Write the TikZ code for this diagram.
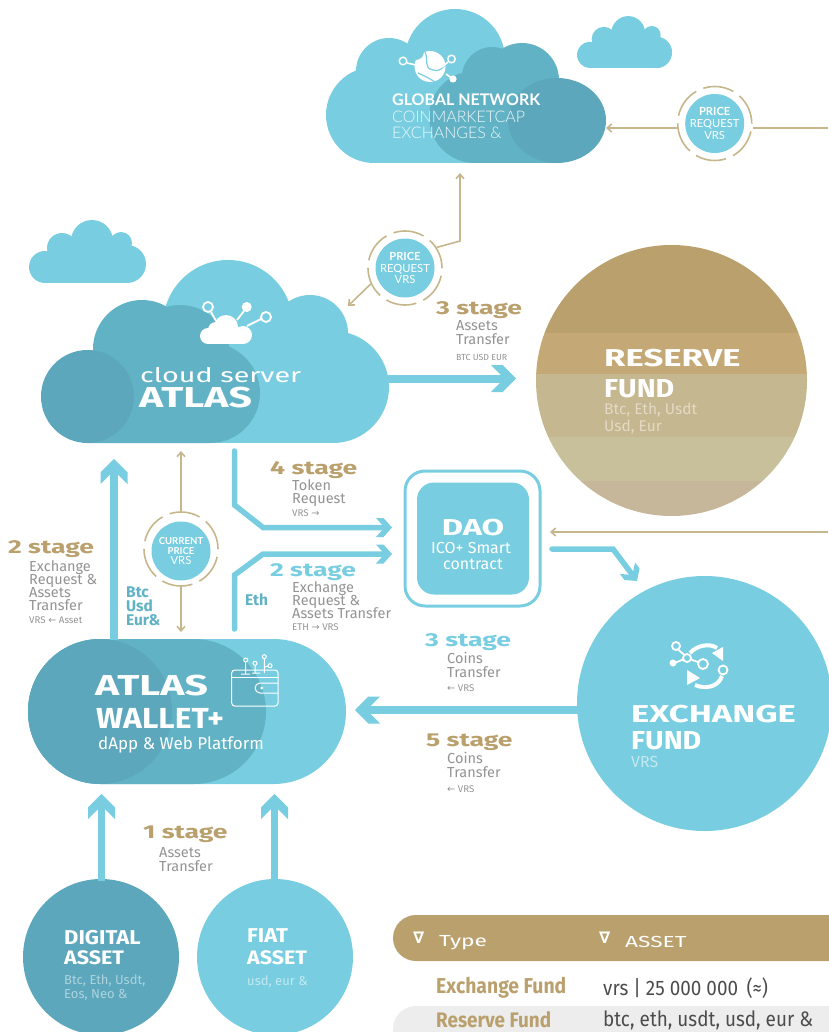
\documentclass[tikz,border=0pt]{standalone}
\usepackage{fontspec}
\usetikzlibrary{arrows.meta,calc}
\setmainfont{Fira Sans}
\newfontfamily\widef[FakeStretch=1.42,BoldFont={Fira Sans Bold}]{Fira Sans}
\newfontfamily\midf[FakeStretch=1.1,BoldFont={Fira Sans Bold}]{Fira Sans}
\newfontfamily\latof{Lato}
\newfontfamily\latol{Lato Light}
\newfontfamily\tablef[FakeStretch=.9,BoldFont={Fira Sans Bold}]{Fira Sans}
\newfontfamily\dejav{DejaVu Sans}
\newcommand{\fs}[1]{\fontsize{#1}{#1}\selectfont}
\definecolor{lblue}{HTML}{78CEE0}
\definecolor{mblue}{HTML}{62B2C6}
\definecolor{dblue}{HTML}{5CA7BC}
\definecolor{tanc}{HTML}{B9A06D}
\definecolor{thinl}{HTML}{C5B68B}
\definecolor{grayt}{HTML}{939393}
\pgfdeclarearrow{
  name=Chev,
  parameters={\the\pgfarrowlength,\the\pgfarrowwidth},
  setup code={
    \pgfarrowssettipend{0pt}
    \pgfarrowssetbackend{-\pgfarrowlength}
    \pgfarrowssetlineend{-.55\pgfarrowlength}
    \pgfarrowssetvisualbackend{-.55\pgfarrowlength}
    \pgfarrowssavethe\pgfarrowlength
    \pgfarrowssavethe\pgfarrowwidth
  },
  drawing code={
    \pgfpathmoveto{\pgfqpoint{0pt}{0pt}}
    \pgfpathlineto{\pgfpoint{-.53\pgfarrowlength}{.5\pgfarrowwidth}}
    \pgfpathlineto{\pgfpoint{-\pgfarrowlength}{.5\pgfarrowwidth}}
    \pgfpathlineto{\pgfpoint{-.62\pgfarrowlength}{.14\pgfarrowwidth}}
    \pgfpathlineto{\pgfpoint{-.62\pgfarrowlength}{-.14\pgfarrowwidth}}
    \pgfpathlineto{\pgfpoint{-\pgfarrowlength}{-.5\pgfarrowwidth}}
    \pgfpathlineto{\pgfpoint{-.53\pgfarrowlength}{-.5\pgfarrowwidth}}
    \pgfpathclose
    \pgfusepathqfill
  },
  defaults={length=25pt,width=27pt}
}
\tikzset{
  bigflow/.style={draw=lblue,line width=8pt,-{Chev}},
  slimflow/.style={draw=lblue,line width=5.5pt,line cap=round,-{Chev[length=16pt,width=19pt]}},
  thinflow/.style={draw=thinl,line width=1.6pt,-{Straight Barb[length=4.5pt,width=8pt]}},
  ring/.style={circle,draw=thinl,line width=1.6pt,minimum size=74pt,inner sep=0pt,dash pattern=on 31pt off 7.7pt},
  badge/.style={circle,fill=lblue,minimum size=59pt,inner sep=0pt,text=white,align=center,font=\fs{11.2}\latof},
  stagetan/.style={anchor=west,inner sep=0pt,yshift=-2pt,text=tanc,font=\widef\bfseries\fs{18.7}},
  stageblue/.style={stagetan,text=lblue},
  desc/.style={anchor=west,inner sep=0pt,yshift=-1.5pt,text height=9.5pt,text depth=3pt,text=grayt,font=\fs{14.5}},
  tinyt/.style={anchor=west,inner sep=0pt,yshift=-1pt,text height=7.5pt,text depth=2pt,text=grayt,font=\fs{9.7}},
  whitetxt/.style={anchor=west,inner sep=0pt,text=white},
  curr/.style={anchor=west,inner sep=0pt,text height=11pt,text depth=0pt,text=mblue,font=\bfseries\fs{15.5}},
  iconl/.style={draw=white,line width=1.3pt},
}
\begin{document}
\begin{tikzpicture}[x=1pt,y=-1pt]
\useasboundingbox (0,0) rectangle (828,1032);

% ---------- small clouds
\foreach \sx/\sy/\sc/\sv in {0/0/1/1, 553.5/-165.4/.812/.825}{
\begin{scope}[shift={(\sx,\sy)},xscale=\sc,yscale=\sv]
\fill[lblue] (45,267) circle[radius=16] (62,248) circle[radius=15] (92,241) circle[radius=21]
  (121,243) circle[radius=11] (127,264) circle[radius=19];
\fill[lblue] (45,251) rectangle (127,283);
\fill[lblue] (62,245) rectangle (121,260);
\end{scope}}

% ---------- global network cloud
\fill[lblue] (374,115) circle[radius=48] (389,71) circle[radius=33] (455,59) circle[radius=50];
\fill[lblue] (374,90) rectangle (500,163);
\fill[mblue] (492,77) circle[radius=30] (522,80) circle[radius=37] (475,117) circle[radius=46];
\fill[mblue] (475,90) rectangle (555,163);
\fill[dblue] (557,120.5) ellipse[x radius=49,y radius=42.5];
\coordinate (gright) at (606,128);
\coordinate (gbottom) at (460,173);

% ---------- atlas cloud
\fill[lblue] (228,325) circle[radius=65] (310,333) circle[radius=38] (333,387) circle[radius=56];
\fill[lblue] (180,340) rectangle (333,443);
\fill[mblue] (142,349) circle[radius=49] (180,355) circle[radius=50] (210,393) circle[radius=50];
\fill[mblue] (93,349) rectangle (160,443) (87,393) rectangle (210,443);
\fill[dblue] (87.5,396.5) circle[radius=46.5];

% globe icon
\fill[white] (430,66.5) circle[radius=15.5];
\fill[lblue] (414,60) .. controls (422,60) and (424,56) .. (424,50) -- (420,50) .. controls (412,54) and (412,58) .. (414,60) -- cycle;
\draw[lblue,line width=1.2pt] (425,52) .. controls (429,60) and (423,68) .. (433,70) .. controls (440,72) and (443,68) .. (447,62);
\draw[lblue,line width=1.2pt] (418,73) .. controls (424,76) and (430,78) .. (436,83);
\draw[iconl,line width=1.4pt] (403,61) circle[radius=3.8] (451.5,59) circle[radius=3.8];
\draw[iconl,line width=1.6pt] (407,63) -- (416,65) (448,62) -- (442,67) (446,74) -- (453,79);
\fill[white] (453,79) circle[radius=3.6];

% cloud icon
\fill[white] (208,336) circle[radius=8] (226,327) circle[radius=12] (243,335) circle[radius=9] (216,330) circle[radius=8];
\fill[white] (208,332) rectangle (243,344);
\draw[iconl,line width=1.8pt] (208,307) circle[radius=5] (266,317) circle[radius=5];
\fill[white] (246.7,307) circle[radius=5];
\draw[iconl,line width=1.8pt] (211,312) -- (216,321) (244,311) -- (237,320) (261,319) -- (247,326);

% ---------- reserve fund
\node[circle,minimum size=271pt,inner sep=0pt] (reserve) at (671.5,380.5) {};
\begin{scope}
\clip (671.5,380.5) circle[radius=135.5];
\fill[fill=tanc] (530,240) rectangle (810,333);
\fill[fill={rgb,255:red,196;green,169;blue,118}] (530,333) rectangle (810,374);
\fill[fill={rgb,255:red,197;green,183;blue,143}] (530,374) rectangle (810,437);
\fill[fill={rgb,255:red,200;green,192;blue,155}] (530,437) rectangle (810,481);
\fill[fill={rgb,255:red,198;green,183;blue,154}] (530,481) rectangle (810,520);
\end{scope}

% ---------- exchange, dao, wallet, assets
\node[circle,fill=lblue,minimum size=255pt,inner sep=0pt] (exchange) at (704.5,703.5) {};
\node[draw=lblue,line width=3pt,rounded corners=20pt,minimum size=135pt,inner sep=0pt] (daoouter) at (472.5,538.5) {};
\node[fill=lblue,rounded corners=17pt,minimum size=112pt,inner sep=0pt,text=white,align=center] (dao) at (473,538.5) {};
\fill[lblue,rounded corners=72.5pt] (28,639) rectangle (346,784);
\fill[mblue,rounded corners=72.5pt] (28,639) rectangle (266,784);
\fill[dblue,rounded corners=72pt] (28,639) rectangle (172,784);
\coordinate (walletT) at (114,640);
\node[circle,fill=dblue,minimum size=156pt,inner sep=0pt] (digital) at (101,957) {};
\node[circle,fill=lblue,minimum size=156pt,inner sep=0pt] (fiat) at (275,957) {};

% wallet icon
\begin{scope}[white,line width=1pt]
\draw[rounded corners=3pt] (231.7,670) rectangle (278,706);
\draw (232,677) -- (278,677);
\draw[rounded corners=2pt] (278,683) -- (258,683) -- (255,686) -- (255,690) -- (258,693) -- (278,693);
\fill (261.7,688) circle[radius=1.6];
\draw (245.7,662) -- (245.7,674) (255,665) -- (255,673) (264.3,659) -- (264.3,673)
 (241,674) -- (250,674) (252,673) -- (260,673) (264.3,667) -- (268,666);
\draw (245.7,660) circle[radius=2] (255,663.3) circle[radius=2] (264.3,656.7) circle[radius=2] (270,665.7) circle[radius=2];
\end{scope}

% exchange icon
\begin{scope}[white]
\fill (723,647) -- (712,653) -- (723,661) -- cycle (687,670) -- (700,678) -- (687,685) -- cycle;
\fill (673,663) circle[radius=3.5];
\draw[line width=1.8pt] (676,646) circle[radius=4] (687,658) circle[radius=4] (703,664) circle[radius=5] (723,670) circle[radius=4.5];
\draw[line width=1.8pt] (678.5,650) -- (684.5,655) (676,662.5) -- (683,659.5) (691,659.5) -- (698,662);
\draw[line width=4pt] (690,653) .. controls (697,645) and (710,643) .. (717,648);
\draw[line width=4pt] (695,685) .. controls (704,689) and (718,688) .. (722,676);
\end{scope}

% ---------- price badges
\node[ring] (ringA) at (714.7,123.5) {};
\node[badge] (badgeA) at (714.7,123.5) {\bfseries PRICE\\[.5pt]REQUEST\\[.5pt]VRS};
\node[ring] (ringB) at (405,268) {};
\node[badge] (badgeB) at (405,268) {\bfseries PRICE\\[.5pt]REQUEST\\[.5pt]VRS};
\node[ring] (ringC) at (181,549) {};
\node[badge,font=\fs{9.6}\latof] (badgeC) at (181,551) {\bfseries CURRENT\\[.8pt]\bfseries PRICE\\[.8pt]{\fs{11.2}VRS}};

% ---------- thin connectors
\coordinate (aR) at (828,128);
\coordinate (dR) at (828,532);
\coordinate (daoT) at (550,532);
\draw[thinflow,-] (aR) -- (ringA.east |- aR);
\draw[thinflow] (ringA.west |- aR) -- (gright);
\coordinate (bb) at (460,241);
\draw[thinflow] (ringB.33) -- (bb) -- (gbottom);
\coordinate (atlasR) at (348,306);
\draw[thinflow] (ringB.205) -- (atlasR);
\coordinate (atlasB) at (181,451);
\coordinate (wallT) at (181,632);
\draw[thinflow] (ringC.north) -- (atlasB);
\draw[thinflow] (ringC.south) -- (wallT);
\draw[thinflow] (dR) -- (daoT);

% ---------- thick connectors
\coordinate (r1) at (385,378.5);
\coordinate (r2) at (516,378.5);
\draw[bigflow] (r1) -- (r2);
\coordinate (up2) at (114,459);
\draw[bigflow] (walletT) -- (up2);
\coordinate (e1) at (580,710);
\coordinate (e2) at (355,710);
\draw[bigflow] (e1) -- (e2);
\coordinate (d1) at (101.5,794);
\coordinate (f1) at (274.5,794);
\draw[draw=lblue,line width=7pt,-{Chev}] (digital.north) ++(.5,2) -- (d1);
\draw[draw=lblue,line width=7pt,-{Chev}] (fiat.north) ++(-.5,2) -- (f1);
\coordinate (s4a) at (234.5,451);
\coordinate (s4b) at (234.5,505);
\coordinate (s4c) at (263,527.5);
\coordinate (s4d) at (392,527.5);
\draw[slimflow] (s4a) -- (s4b) -- (s4c) -- (s4d);
\coordinate (s2a) at (234.5,629);
\coordinate (s2b) at (234.5,575);
\coordinate (s2c) at (263,554);
\coordinate (s2d) at (392,554);
\draw[slimflow] (s2a) -- (s2b) -- (s2c) -- (s2d);
\coordinate (x1) at (552,549);
\coordinate (x2) at (613,549);
\coordinate (x3) at (637,581);
\draw[slimflow] (x1) -- (x2) -- (x3);

% ---------- cloud labels
\node[whitetxt,font=\latof\bfseries\fs{16}] (t1) at (392,100) {GLOBAL NETWORK};
\node[whitetxt,font=\latol\fs{16},text=white!85!lblue] (t2) at (392,116.5) {COINMARKETCAP};
\node[whitetxt,font=\latol\fs{16},text=white!85!lblue] (t3) at (392,133) {EXCHANGES \&};
\node[whitetxt,font=\widef\fs{20.2}] (t4) at (140,375) {cloud server};
\node[whitetxt,font=\widef\bfseries\fs{28.8}] (t5) at (139,398) {ATLAS};

% ---------- reserve / exchange labels
\node[whitetxt,font=\widef\bfseries\fs{24.4}] (t6) at (604,358) {RESERVE};
\node[whitetxt,font=\midf\bfseries\fs{26}] (t7) at (604,388.5) {FUND};
\node[whitetxt,font=\fs{15.5},text=white!60!tanc] (t8) at (604,410) {Btc, Eth, Usdt};
\node[whitetxt,font=\fs{15.5},text=white!60!tanc] (t9) at (604,427) {Usd, Eur};
\node[whitetxt,font=\widef\bfseries\fs{24.4}] (t10) at (631,714) {EXCHANGE};
\node[whitetxt,font=\midf\bfseries\fs{26}] (t11) at (631,740.5) {FUND};
\node[whitetxt,font=\fs{16},text=white!55!lblue] (t12) at (631,762) {VRS};

% ---------- dao label
\node[inner sep=0pt,text=white,font=\widef\bfseries\fs{23}] (t13) at (473,528) {DAO};
\node[inner sep=0pt,text=white,font=\fs{16}] (t14) at (471,548) {ICO+ Smart};
\node[inner sep=0pt,text=white,font=\fs{16}] (t15) at (473,564) {contract};

% ---------- wallet label
\node[whitetxt,font=\widef\bfseries\fs{28.8}] (t16) at (95,686) {ATLAS};
\node[whitetxt,font=\midf\bfseries\fs{29}] (t17) at (96,718) {WALLET+};
\node[whitetxt,font=\fs{17}] (t18) at (98,745) {dApp \& Web Platform};

% ---------- assets labels
\node[whitetxt,font=\midf\bfseries\fs{20}] (t19) at (64,938) {DIGITAL};
\node[whitetxt,font=\midf\bfseries\fs{19.5}] (t20) at (64,958) {ASSET};
\node[whitetxt,font=\fs{13},text=white!50!dblue] (t21) at (64,981) {Btc, Eth, Usdt,};
\node[whitetxt,font=\fs{13},text=white!50!dblue] (t22) at (64,995) {Eos, Neo \&};
\node[whitetxt,font=\midf\bfseries\fs{20}] (t23) at (247,936) {FIAT};
\node[whitetxt,font=\midf\bfseries\fs{19.5}] (t24) at (247,958) {ASSET};
\node[whitetxt,font=\fs{13},text=white!55!lblue] (t25) at (247,982) {usd, eur \&};

% ---------- stages
\node[stagetan] (s1) at (436,308) {3 stage};
\node[desc] (s1a) at (456,326) {Assets};
\node[desc] (s1b) at (456,340) {Transfer};
\node[tinyt,font=\fs{8.8}] (s1c) at (456,357) {BTC USD EUR};

\node[stagetan] (s2) at (270,468) {4 stage};
\node[desc] (s2m) at (292,486) {Token};
\node[desc] (s2n) at (292,499) {Request};
\node[tinyt] (s2o) at (292,513) {VRS {\dejav→}};

\node[stagetan] (s3) at (8,547) {2 stage};
\node[desc] (s3a) at (29,567) {Exchange};
\node[desc] (s3b) at (29,580) {Request \&};
\node[desc] (s3c) at (29,593) {Assets};
\node[desc] (s3d) at (29,606) {Transfer};
\node[tinyt] (s3e) at (29,620) {VRS {\dejav←} Asset};

\node[curr] (c1) at (126,592) {Btc};
\node[curr] (c2) at (126,606) {Usd};
\node[curr] (c3) at (126,620) {Eur\&};
\node[curr] (c4) at (245,600) {Eth};

\node[stageblue] (s4) at (270,570) {2 stage};
\node[desc] (s4m) at (292,588) {Exchange};
\node[desc] (s4n) at (292,601) {Request \&};
\node[desc] (s4o) at (292,614) {Assets Transfer};
\node[tinyt] (s4p) at (292,627) {ETH {\dejav→} VRS};

\node[stageblue] (s5) at (425,640) {3 stage};
\node[desc] (s5a) at (447,659) {Coins};
\node[desc] (s5b) at (447,673) {Transfer};
\node[tinyt] (s5c) at (447,688) {{\dejav←} VRS};

\node[stagetan] (s6) at (426,740) {5 stage};
\node[desc] (s6a) at (447,759) {Coins};
\node[desc] (s6b) at (447,773) {Transfer};
\node[tinyt] (s6c) at (447,789) {{\dejav←} VRS};

\node[stagetan] (s7) at (143,832) {1 stage};
\node[desc] (s7a) at (159,853) {Assets};
\node[desc] (s7b) at (159,867) {Transfer};

% ---------- table
\fill[tanc,rounded corners=23pt] (393,915) rectangle (880,961);
\fill[black!7,rounded corners=23pt] (393,1006) rectangle (880,1070);
\node[whitetxt,font=\dejav\bfseries\fs{16}] (h1) at (413,938) {∇};
\node[whitetxt,font=\widef\fs{16}] (h2) at (439,943) {Type};
\node[whitetxt,font=\dejav\bfseries\fs{16}] (h3) at (599,938) {∇};
\node[whitetxt,font=\widef\fs{16}] (h4) at (625,942) {ASSET};
\node[anchor=west,inner sep=0pt,text=tanc,font=\tablef\bfseries\fs{21.5}] (r1a) at (436,988) {Exchange Fund};
\node[anchor=west,inner sep=0pt,text=black!70,font=\tablef\fs{21}] (r1b) at (603,988) {vrs | 25 000 000 \,(≈)};
\node[anchor=west,inner sep=0pt,text=tanc,font=\tablef\bfseries\fs{21}] (r2a) at (436,1020) {Reserve Fund};
\node[anchor=west,inner sep=0pt,text=black!70,font=\tablef\fs{21}] (r2b) at (603,1020) {btc, eth, usdt, usd, eur \&};
\end{tikzpicture}
\end{document}
